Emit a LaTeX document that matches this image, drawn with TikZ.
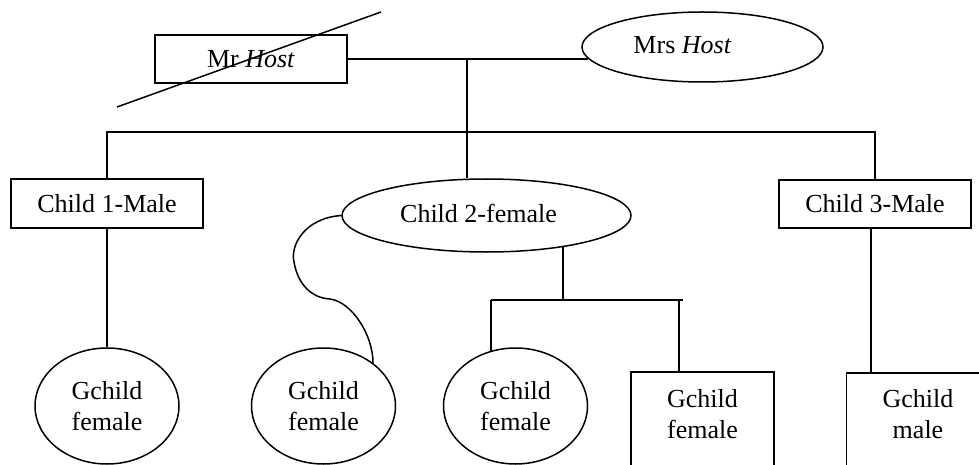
\documentclass[tikz,border=0pt]{standalone}
\usepackage{fontspec}
\setmainfont{Liberation Serif}
\usetikzlibrary{shapes.geometric}
\begin{document}
\begin{tikzpicture}[x=1pt,y=-1pt,
  every node/.style={font=\fontsize{26}{31}\selectfont, inner sep=0pt},
  ln/.style={line width=1.5pt},
  boxnode/.style={draw, line width=1.5pt, rectangle, minimum width=192pt, minimum height=48pt},
  ellnode/.style={draw, line width=1.5pt, ellipse},
  gellipse/.style={ellnode, minimum width=144pt, minimum height=116pt, align=center},
  gbox/.style={draw, line width=1.5pt, rectangle, minimum width=143pt, minimum height=130pt, anchor=north},
  txt/.style={align=center}]
\useasboundingbox (0,0) rectangle (979,465);
\clip (0,0) rectangle (979,465);
% top generation
\node[boxnode] (mr) at (251,59) {Mr \textit{Host}};
\node[ellnode, minimum width=241pt, minimum height=70pt] (mrs) at (702.5,47) {};
\node[txt] (mrst) at (682.5,45) {Mrs \textit{Host}};
\coordinate (s1) at (117,107);
\coordinate (s2) at (381,12);
\draw[ln] (s1) -- (s2);
\coordinate (j1) at (467,59);
\coordinate (bar) at (0,132);
\draw[ln] (mr.east) -- (mr.east -| mrs.186);
% children
\node[boxnode, minimum height=49pt] (c1) at (107,203.5) {Child 1-Male};
\node[ellnode, minimum width=289pt, minimum height=73pt] (c2) at (486.5,215.5) {};
\node[txt] (c2t) at (478.5,213) {Child 2-female};
\node[boxnode] (c3) at (875,204) {Child 3-Male};
\draw[ln] (j1) -- (j1 |- bar);
\draw[ln] (c1.north) -- (c1.north |- bar) -- (c3.north |- bar) -- (c3.north);
\draw[ln] (j1 |- bar) -- (j1 |- c2.north);
% grandchildren
\node[gellipse] (g1) at (107,406) {Gchild\\female};
\node[gellipse] (g2) at (323.5,406) {Gchild\\female};
\node[gellipse] (g3) at (515.5,406) {Gchild\\female};
\node[gbox] (g4) at (702.5,371) {};
\node[txt] (g4t) at (702.5,414) {Gchild\\female};
\node[gbox] (g5) at (918,372) {};
\node[txt] (g5t) at (918,414) {Gchild\\male};
% connectors
\draw[ln] (c1.south) -- (g1.north);
\draw[ln] (c2.west) .. controls (305,218) and (290,245) .. (294,262)
  .. controls (298,285) and (312,298) .. (330,299)
  .. controls (352,302) and (373,335) .. (g2.41);
\coordinate (b2l) at (491,300);
\coordinate (b2r) at (683,300);
\coordinate (b2m) at (563,300);
\draw[ln] (b2m |- c2.338) -- (b2m);
\draw[ln] (b2l) -- (b2r);
\draw[ln] (b2l) -- (b2l |- g3.114);
\draw[ln] (g4.north -| 679,0) -- (679,300);
\coordinate (c3d) at (871,0);
\draw[ln] (c3.south -| c3d) -- (g5.north -| c3d);
\end{tikzpicture}
\end{document}
